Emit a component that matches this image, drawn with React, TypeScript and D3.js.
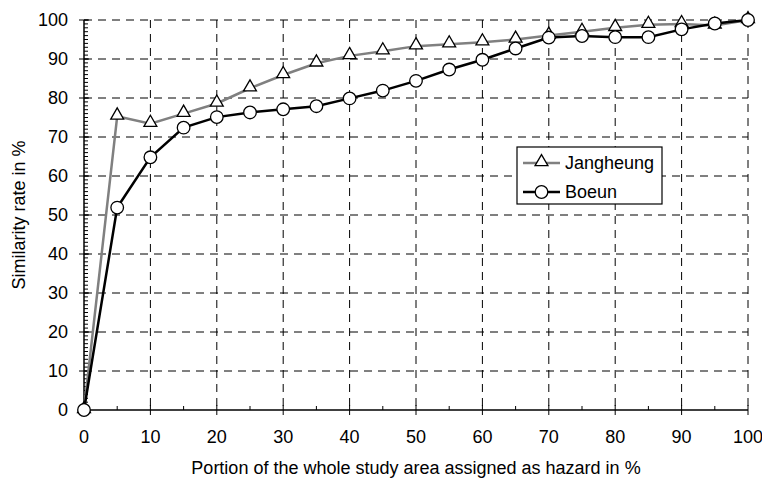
import React from 'react';
import * as d3 from 'd3';

const portions = [0, 5, 10, 15, 20, 25, 30, 35, 40, 45, 50, 55, 60, 65, 70, 75, 80, 85, 90, 95, 100];
const jangheung = [0, 75.3, 73.4, 76.0, 78.6, 82.5, 85.9, 88.9, 90.8, 92.0, 93.3, 93.8, 94.3, 95.0, 96.0, 97.0, 98.0, 98.8, 99.0, 98.6, 100];
const boeun = [0, 51.9, 64.8, 72.4, 75.1, 76.3, 77.1, 77.9, 79.9, 81.9, 84.4, 87.3, 89.8, 92.7, 95.5, 95.9, 95.6, 95.6, 97.6, 99.1, 100];
const xTicks = [0, 10, 20, 30, 40, 50, 60, 70, 80, 90, 100];
const yTicks = [0, 10, 20, 30, 40, 50, 60, 70, 80, 90, 100];

const W = 762;
const H = 479;
const margin = { top: 20, right: 14, bottom: 69, left: 84 };
const font = 'Liberation Sans, Arial, sans-serif';
const fs = 18;

export default function App() {
  const w = W - margin.left - margin.right;
  const h = H - margin.top - margin.bottom;
  const x = d3.scaleLinear().domain([0, 100]).range([0, w]);
  const y = d3.scaleLinear().domain([0, 100]).range([h, 0]);

  const line = d3.line<number>()
    .x((_, i) => x(portions[i]))
    .y(d => y(d));

  const tri = d3.symbol().type(d3.symbolTriangle).size(72)();
  const minorY = d3.range(0, 101, 1);
  const minorX = d3.range(5, 100, 10);

  return (
    <svg width={W} height={H} style={{ position: 'absolute', left: 0, top: 0 }} fontFamily={font}>
      <g transform={`translate(${margin.left},${margin.top})`}>
        {/* grid */}
        {xTicks.filter(t => t > 0).map(t => (
          <line key={'gx' + t} x1={x(t)} x2={x(t)} y1={0} y2={h} stroke="#000" strokeDasharray="8,6" />
        ))}
        {yTicks.filter(t => t > 0).map(t => (
          <line key={'gy' + t} x1={0} x2={w} y1={y(t)} y2={y(t)} stroke="#000" strokeDasharray="8,6" />
        ))}
        {/* axes */}
        <line x1={0} x2={0} y1={0} y2={h} stroke="#000" strokeWidth={1.5} />
        <line x1={0} x2={w} y1={h} y2={h} stroke="#000" strokeWidth={1.5} />
        {minorY.map(t => (
          <line key={'my' + t} x1={0} x2={4} y1={y(t)} y2={y(t)} stroke="#000" />
        ))}
        {yTicks.map(t => (
          <g key={'ty' + t}>
            <line x1={-5} x2={5} y1={y(t)} y2={y(t)} stroke="#000" />
            <text x={-16} y={y(t)} dy="0.35em" textAnchor="end" fontSize={fs}>{t}</text>
          </g>
        ))}
        {minorX.map(t => (
          <line key={'mx' + t} x1={x(t)} x2={x(t)} y1={h} y2={h - 4} stroke="#000" />
        ))}
        {xTicks.map(t => (
          <g key={'tx' + t}>
            <line x1={x(t)} x2={x(t)} y1={h - 5} y2={h + 5} stroke="#000" />
            <text x={x(t)} y={h + 33} textAnchor="middle" fontSize={fs}>{t}</text>
          </g>
        ))}
        <text x={w / 2} y={h + 64} textAnchor="middle" fontSize={fs}>Portion of the whole study area assigned as hazard in %</text>
        <text transform={`translate(${-59},${h / 2}) rotate(-90)`} textAnchor="middle" fontSize={fs}>Similarity rate in %</text>

        {/* series */}
        <path d={line(jangheung) || ''} fill="none" stroke="#808080" strokeWidth={2.5} />
        {jangheung.map((v, i) => (
          <path key={'j' + i} d={tri || ''} transform={`translate(${x(portions[i])},${y(v) - 1})`} fill="#fff" stroke="#000" strokeWidth={1.3} />
        ))}
        <path d={line(boeun) || ''} fill="none" stroke="#000" strokeWidth={2.5} />
        {boeun.map((v, i) => (
          <circle key={'b' + i} cx={x(portions[i])} cy={y(v)} r={6.3} fill="#fff" stroke="#000" strokeWidth={1.3} />
        ))}

        {/* legend */}
        <g transform={`translate(${517 - margin.left},${147 - margin.top})`}>
          <rect x={0} y={0} width={145} height={57} fill="#fff" stroke="#000" strokeWidth={1.2} />
          <line x1={6} x2={43} y1={16} y2={16} stroke="#808080" strokeWidth={2.5} />
          <path d={tri || ''} transform="translate(24.5,15)" fill="#fff" stroke="#000" strokeWidth={1.3} />
          <text x={48} y={16} dy="0.35em" fontSize={fs}>Jangheung</text>
          <line x1={6} x2={43} y1={45} y2={45} stroke="#000" strokeWidth={2.5} />
          <circle cx={24.5} cy={45} r={6.3} fill="#fff" stroke="#000" strokeWidth={1.3} />
          <text x={48} y={45} dy="0.35em" fontSize={fs}>Boeun</text>
        </g>
      </g>
    </svg>
  );
}
